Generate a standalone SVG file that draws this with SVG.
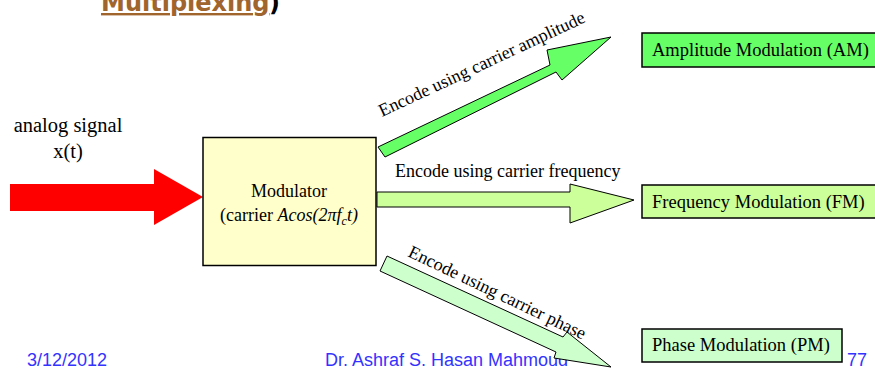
<svg xmlns="http://www.w3.org/2000/svg" width="875" height="371" viewBox="0 0 875 371">
<style>
.t{font-family:"Liberation Serif","Times New Roman",serif;font-size:18px;fill:#000}
.b{font-size:18.5px}
.big{font-size:20.5px}
.f{font-family:"Liberation Sans",Arial,sans-serif;font-size:18px;fill:#3333FF}
.box{stroke:#000;stroke-width:1.5}
.arr{stroke:#000;stroke-width:1}
</style>
<rect width="875" height="371" fill="#fff"/>
<g id="title">
<text x="101" y="11" font-family="'DejaVu Sans',Verdana,sans-serif" font-weight="bold" font-size="24" fill="#A0642D" text-decoration="underline">Multiplexing</text>
<text x="269" y="11" font-family="'DejaVu Sans',Verdana,sans-serif" font-weight="bold" font-size="24" fill="#000">)</text>
</g>
<g id="footer">
<text class="f" x="27" y="366">3/12/2012</text>
<text class="f" x="325" y="366">Dr. Ashraf S. Hasan Mahmoud</text>
<text class="f" x="847" y="366">77</text>
</g>
<g id="input">
<text class="t big" x="68" y="132" text-anchor="middle">analog signal</text>
<text class="t big" x="68" y="158" text-anchor="middle">x(t)</text>
</g>
<g id="connectors">
<polygon points="10,184 154,184 154,169 203,197 154,225 154,211 10,211" fill="#FF0000"/>
<polygon class="arr" points="378,147 550,65 547,50 611,37 562,80 556,72 385,157" fill="#66FF66"/>
<polygon class="arr" points="377,192 570,192 570,184 634,200 570,223 570,207 377,207" fill="#CCFF99"/>
<polygon class="arr" points="387,256 563,337 567,332 611,367 554,358 556,352 380,271" fill="#CCFFCC"/>
<text class="t" x="382" y="117" transform="rotate(-25 382 117)">Encode using carrier amplitude</text>
<text class="t" x="395" y="177">Encode using carrier frequency</text>
<text class="t" x="407" y="256" transform="rotate(25.5 407 256)">Encode using carrier phase</text>
</g>
<g id="modulator">
<rect class="box" x="203" y="137.5" width="173" height="128" fill="#FFFFCC"/>
<text class="t" x="289" y="197" text-anchor="middle">Modulator</text>
<text class="t" x="289" y="221" text-anchor="middle">(carrier <tspan font-style="italic">Acos(2πf</tspan><tspan font-style="italic" font-size="12" dy="4">c</tspan><tspan font-style="italic" dy="-4">t)</tspan></text>
</g>
<g id="am">
<rect class="box" x="642" y="33" width="240" height="34" fill="#66FF66"/>
<text class="t b" x="652" y="56">Amplitude Modulation (AM)</text>
</g>
<g id="fm">
<rect class="box" x="642" y="185" width="240" height="33" fill="#CCFF99"/>
<text class="t b" x="652" y="208">Frequency Modulation (FM)</text>
</g>
<g id="pm">
<rect class="box" x="642" y="329" width="200" height="33" fill="#CCFFCC"/>
<text class="t b" x="652" y="351">Phase Modulation (PM)</text>
</g>
</svg>
